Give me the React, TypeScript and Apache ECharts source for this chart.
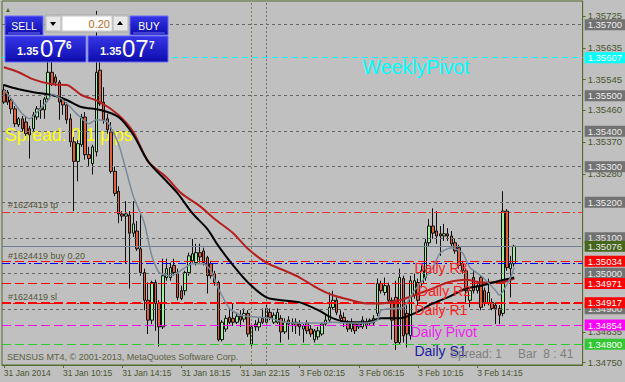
import React, { useEffect, useRef } from "react";
import * as echarts from "echarts";

const W = 625;
const H = 382;

// [open, close, low, high] per M15 bar, 31 Jan 2014 06:15 onwards
const ohlc: number[][] = [
  [1.35516,1.35482,1.35477,1.35532],[1.35510,1.35482,1.35474,1.35516],[1.35488,1.35463,1.35449,1.35496],
  [1.35463,1.35421,1.35412,1.35471],[1.35418,1.35435,1.35412,1.35440],[1.35435,1.35407,1.35398,1.35443],
  [1.35426,1.35393,1.35387,1.35440],[1.35407,1.35390,1.35323,1.35415],[1.35407,1.35446,1.35398,1.35454],
  [1.35440,1.35463,1.35432,1.35471],[1.35465,1.35460,1.35435,1.35488],[1.35460,1.35491,1.35435,1.35496],
  [1.35491,1.35566,1.35482,1.35601],[1.35566,1.35532,1.35527,1.35615],[1.35552,1.35538,1.35527,1.35560],
  [1.35538,1.35482,1.35432,1.35544],[1.35491,1.35474,1.35446,1.35496],[1.35474,1.35432,1.35421,1.35482],
  [1.35435,1.35370,1.35356,1.35449],[1.35370,1.35315,1.35175,1.35384],[1.35315,1.35365,1.35259,1.35376],
  [1.35362,1.35440,1.35356,1.35449],[1.35440,1.35334,1.35320,1.35454],[1.35334,1.35323,1.35301,1.35356],
  [1.35309,1.35356,1.35278,1.35362],[1.35342,1.35566,1.35329,1.35739],[1.35572,1.35477,1.35471,1.35606],
  [1.35482,1.35432,1.35421,1.35524],[1.35435,1.35404,1.35393,1.35449],[1.35398,1.35287,1.35281,1.35426],
  [1.35287,1.35225,1.35217,1.35301],[1.35231,1.35167,1.35141,1.35245],[1.35167,1.35161,1.35147,1.35175],
  [1.35161,1.35167,1.35027,1.35203],[1.35164,1.35113,1.34957,1.35175],[1.35113,1.35139,1.35102,1.35203],
  [1.35119,1.35069,1.35063,1.35147],[1.35069,1.35002,1.34993,1.35169],[1.35002,1.34924,1.34896,1.35013],
  [1.34924,1.34868,1.34829,1.34974],[1.34868,1.34974,1.34857,1.34979],[1.34974,1.34915,1.34838,1.34982],
  [1.34915,1.34849,1.34794,1.34924],[1.34849,1.34993,1.34843,1.35041],[1.34988,1.35013,1.34979,1.35041],
  [1.34988,1.35016,1.34979,1.35030],[1.35022,1.35002,1.34993,1.35041],[1.35002,1.34932,1.34924,1.35013],
  [1.34951,1.34929,1.34924,1.34965],[1.34951,1.35002,1.34938,1.35007],[1.35002,1.35049,1.34993,1.35058],
  [1.35035,1.35055,1.35030,1.35097],[1.35030,1.35058,1.35022,1.35083],[1.35058,1.35046,1.35030,1.35083],
  [1.35063,1.35030,1.35022,1.35072],[1.35044,1.34993,1.34943,1.35049],[1.35027,1.34993,1.34985,1.35035],
  [1.34999,1.34974,1.34965,1.35007],[1.34974,1.34813,1.34808,1.34979],[1.34813,1.34862,1.34808,1.34868],
  [1.34843,1.34873,1.34835,1.34882],[1.34876,1.34862,1.34857,1.34901],[1.34873,1.34862,1.34852,1.34915],
  [1.34862,1.34879,1.34857,1.34890],[1.34879,1.34868,1.34849,1.34896],[1.34871,1.34887,1.34862,1.34901],
  [1.34887,1.34829,1.34821,1.34896],[1.34799,1.34849,1.34794,1.34857],[1.34857,1.34849,1.34838,1.34868],
  [1.34849,1.34862,1.34838,1.34873],[1.34873,1.34862,1.34857,1.34901],[1.34862,1.34901,1.34857,1.34915],
  [1.34890,1.34876,1.34868,1.34901],[1.34862,1.34882,1.34857,1.34890],[1.34862,1.34890,1.34857,1.34901],
  [1.34873,1.34835,1.34805,1.34882],[1.34835,1.34862,1.34829,1.34873],[1.34868,1.34857,1.34813,1.34879],
  [1.34857,1.34862,1.34835,1.34873],[1.34862,1.34852,1.34829,1.34873],[1.34857,1.34849,1.34824,1.34868],
  [1.34843,1.34852,1.34805,1.34857],[1.34860,1.34838,1.34829,1.34868],[1.34843,1.34829,1.34821,1.34854],
  [1.34813,1.34838,1.34805,1.34843],[1.34821,1.34838,1.34813,1.34849],[1.34829,1.34857,1.34824,1.34862],
  [1.34857,1.34868,1.34852,1.34882],[1.34868,1.34904,1.34860,1.34946],[1.34904,1.34924,1.34896,1.34951],
  [1.34924,1.34890,1.34882,1.34932],[1.34882,1.34873,1.34862,1.34896],[1.34876,1.34862,1.34849,1.34890],
  [1.34860,1.34843,1.34835,1.34868],[1.34843,1.34860,1.34835,1.34873],[1.34857,1.34838,1.34829,1.34862],
  [1.34849,1.34857,1.34843,1.34862],[1.34849,1.34868,1.34843,1.34879],[1.34862,1.34852,1.34843,1.34873],
  [1.34860,1.34868,1.34854,1.34873],[1.34860,1.34873,1.34854,1.34882],[1.34887,1.34971,1.34879,1.34985],
  [1.34971,1.34951,1.34943,1.34979],[1.34946,1.34965,1.34938,1.34988],[1.34965,1.34924,1.34915,1.34974],
  [1.34924,1.34868,1.34813,1.34932],[1.34932,1.34805,1.34784,1.34979],[1.34805,1.34988,1.34799,1.35013],
  [1.34985,1.34824,1.34805,1.34993],[1.34887,1.34829,1.34791,1.34910],[1.34824,1.34979,1.34813,1.34993],
  [1.34938,1.34979,1.34929,1.34999],[1.34974,1.34924,1.34910,1.34985],[1.34971,1.35007,1.34960,1.35022],
  [1.34988,1.35086,1.34979,1.35097],[1.35086,1.35133,1.35077,1.35153],[1.35133,1.35113,1.35097,1.35183],
  [1.35119,1.35105,1.35083,1.35175],[1.35111,1.35105,1.35049,1.35133],[1.35105,1.35111,1.35091,1.35139],
  [1.35111,1.35105,1.35091,1.35127],[1.35105,1.35083,1.35074,1.35119],[1.35086,1.35063,1.35055,1.35097],
  [1.35072,1.35022,1.35013,1.35080],[1.35027,1.35007,1.34999,1.35035],[1.35007,1.34951,1.34918,1.35013],
  [1.34924,1.34951,1.34904,1.34960],[1.34988,1.34951,1.34943,1.35007],[1.34951,1.34965,1.34943,1.34974],
  [1.34988,1.34904,1.34896,1.34993],[1.34951,1.34915,1.34907,1.34960],[1.34918,1.34946,1.34910,1.34985],
  [1.34918,1.34901,1.34896,1.34929],[1.34910,1.34901,1.34857,1.34918],[1.34901,1.34882,1.34857,1.34910],
  [1.34887,1.35175,1.34879,1.35231],[1.35175,1.35016,1.35007,1.35181],[1.35013,1.35027,1.34932,1.35049],
  [1.35027,1.35076,1.35019,1.35080],
];

// moving averages read at sample bars: [barIndex, price]
const maRed: number[][] = [
  [0,1.35580],[4,1.35566],[8,1.35546],[13,1.35532],[17,1.35530],[21,1.35502],[26,1.35482],[31,1.35446],
  [35,1.35398],[39,1.35315],[44,1.35270],[48,1.35225],[53,1.35189],[57,1.35153],[62,1.35113],[66,1.35069],
  [71,1.35030],[76,1.35007],[80,1.34988],[85,1.34957],[89,1.34938],[94,1.34924],[98,1.34915],[102,1.34915],
  [107,1.34924],[111,1.34938],[116,1.34957],[120,1.34974],[125,1.34982],[129,1.34974],[134,1.34974],[138,1.34985],
];
const maBlack: number[][] = [
  [0,1.35530],[4,1.35518],[8,1.35510],[13,1.35502],[17,1.35488],[21,1.35468],[26,1.35460],[31,1.35440],
  [35,1.35390],[39,1.35315],[44,1.35259],[47,1.35225],[51,1.35169],[55,1.35125],[58,1.35077],[62,1.35022],
  [66,1.34974],[71,1.34932],[75,1.34924],[80,1.34918],[85,1.34896],[89,1.34873],[94,1.34862],[98,1.34862],
  [102,1.34873],[107,1.34873],[111,1.34887],[116,1.34915],[120,1.34932],[125,1.34957],[129,1.34965],
  [134,1.34979],[138,1.34988],
];
const maSlate: number[][] = [
  [0,1.35516],[2,1.35491],[5,1.35449],[7,1.35435],[9,1.35454],[12,1.35488],[13,1.35504],[16,1.35488],
  [20,1.35446],[23,1.35421],[25,1.35432],[28,1.35426],[31,1.35365],[33,1.35292],[35,1.35217],[38,1.35141],
  [40,1.35049],[42,1.35002],[45,1.34993],[47,1.35002],[51,1.35027],[54,1.35027],[56,1.35007],[58,1.34957],
  [61,1.34901],[64,1.34882],[69,1.34876],[72,1.34873],[76,1.34862],[80,1.34860],[85,1.34860],[89,1.34862],
  [94,1.34860],[98,1.34860],[101,1.34868],[102,1.34896],[105,1.34901],[108,1.34904],[111,1.34951],
  [116,1.35016],[118,1.35058],[121,1.35072],[124,1.35058],[126,1.35016],[129,1.34993],[133,1.34951],
  [134,1.34938],[137,1.34988],[138,1.35016],
];

const barSlots = 157;
const timeLabels = ["31 Jan 2014", "31 Jan 10:15", "31 Jan 14:15", "31 Jan 18:15", "31 Jan 22:15",
  "3 Feb 02:15", "3 Feb 06:15", "3 Feb 10:15", "3 Feb 14:15"];
const timeLabelBars = [0, 16, 32, 48, 64, 80, 96, 112, 128];
const separatorBars = [67, 71];

const yMin = 1.347417;
const yMax = 1.357667;
const gridLevels = [1.357, 1.355, 1.354, 1.353, 1.352, 1.351, 1.35, 1.349];
const scaleLabels = [1.35725, 1.35635, 1.35545, 1.3546, 1.3537, 1.3528, 1.34835, 1.3475];
const weeklyPivot = 1.35607;
const bidPrice = 1.35076;
const pivotNames = ["Daily R3", "Daily R2", "Daily R1", "Daily Pivot", "Daily S1"];
const pivotValues = [1.35034, 1.34971, 1.34917, 1.34854, 1.348];
const pivotLabelBars = [111, 112, 111, 110, 111];
const weeklyLabelBar = 97;
const orderNames = ["#1624419 tp", "#1624419 buy 0.20", "#1624419 sl"];
const orderValues = [1.35173, 1.35029, 1.34915];

export default function App() {
  const ref = useRef<HTMLDivElement>(null);
  useEffect(() => {
    document.body.style.margin = "0";
    const chart = echarts.init(ref.current!, null, { renderer: "svg", width: W, height: H });
    const font = "'Liberation Sans', Arial, sans-serif";
    const olive = "#556b2f";
    const axisText = "#4a5530";
    const cats = Array.from({ length: barSlots }, (_, i) => String(i));

    const boxLabel = (bg: string, fg = "#ffffff") => ({
      show: true, position: "end", distance: 2,
      formatter: (p: any) => Number(p.value).toFixed(5),
      backgroundColor: bg, color: fg, fontSize: 9.5, fontFamily: font,
      padding: [1, 12, 0, 3], lineHeight: 10,
    });
    const orderLabel = (text: string) => ({
      show: true, position: "insideStartTop", distance: [6, 2], formatter: text,
      color: "#55553b", fontSize: 9, fontFamily: font,
    });
    const pivotColors = ["#ff0000", "#ff0000", "#ff0000", "#ff00ff", "#2ecc2e"];
    const pivotWidths = [1, 1, 2, 1, 1];
    const orderColors = ["#ee3333", "#0000ff", "#ff0000"];

    const gridMarks: any[] = [
      ...gridLevels.map((v) => ({
        yAxis: v, lineStyle: { color: "#666666", type: [3, 3], width: 1 }, label: boxLabel("#727272", "#ececec"),
      })),
      ...separatorBars.map((b, k) => ({
        xAxis: b, lineStyle: { color: k === 0 ? "#7c7c50" : "#707070", type: [2, 2], width: 1 }, label: { show: false },
      })),
    ];
    const levelMarks: any[] = [
      { yAxis: weeklyPivot, lineStyle: { color: "#00ffff", type: [6, 4], width: 1 }, label: boxLabel("#00ffff") },
      { yAxis: bidPrice, lineStyle: { color: "#6e7f92", type: "solid", width: 1 }, label: boxLabel("#46661c", "#e8e8e8") },
      ...orderValues.map((v, k) => ({
        yAxis: v, lineStyle: { color: orderColors[k], type: [8, 3, 2, 3], width: 1 }, label: orderLabel(orderNames[k]),
      })),
      ...pivotValues.map((v, k) => ({
        yAxis: v, lineStyle: { color: pivotColors[k], type: [9, 4], width: pivotWidths[k] },
        label: boxLabel(k === 4 ? "#33c833" : pivotColors[k]),
      })),
    ];

    // carrier series: one invisible point each, only there to hold the horizontal levels
    const carrier = (anchor: number[][], z: number, marks: any[]) => ({
      type: "line", data: anchor, z, silent: true, showSymbol: false, symbol: "none",
      lineStyle: { opacity: 0 }, itemStyle: { opacity: 0 },
      markLine: { silent: true, symbol: ["none", "none"], animation: false, precision: 5, label: { show: false }, data: marks },
    });

    const maSeries = (data: number[][], color: string, width: number, smooth: number) => ({
      type: "line", data, showSymbol: false, smooth, z: 5, silent: true,
      lineStyle: { color, width }, itemStyle: { color },
    });

    chart.setOption({
      animation: false,
      backgroundColor: "#c0c0c0",
      grid: { left: 2, right: 40, top: 1, bottom: 17, show: true, borderColor: olive, borderWidth: 1 },
      xAxis: {
        type: "category", data: cats, boundaryGap: true,
        axisLine: { show: true, lineStyle: { color: olive } },
        axisTick: { show: true, alignWithLabel: true, interval: (i: number) => timeLabelBars.includes(i), length: 3, lineStyle: { color: olive } },
        axisLabel: {
          interval: (i: number) => timeLabelBars.includes(i),
          formatter: (_v: string, i: number) => timeLabels[timeLabelBars.indexOf(i)] ?? "",
          align: "left", margin: 3, fontSize: 8.5, color: axisText, fontFamily: font,
        },
        splitLine: { show: false },
      },
      yAxis: {
        type: "value", position: "right", min: yMin, max: yMax,
        splitLine: { show: false },
        axisLine: { show: true, lineStyle: { color: olive } },
        axisTick: { show: true, customValues: scaleLabels, length: 3, lineStyle: { color: olive } },
        axisLabel: {
          customValues: scaleLabels, formatter: (v: number) => v.toFixed(5),
          color: axisText, fontSize: 9.5, fontFamily: font, margin: 5,
        },
      },
      series: [
        carrier([[0, bidPrice]], 1, gridMarks),
        {
          type: "candlestick", data: ohlc, barWidth: 3, z: 2, silent: true,
          itemStyle: { color: "#a0f0a0", color0: "#e0603a", borderColor: "#101010", borderColor0: "#101010", borderWidth: 1 },
        },
        carrier([[0, bidPrice]], 3, levelMarks),
        maSeries(maRed, "#b52020", 2, 0.3),
        maSeries(maBlack, "#000000", 2, 0.3),
        maSeries(maSlate, "#7a8a9a", 1.5, 0.2),
      ],
    });

    const pt = (bar: number, v: number) => chart.convertToPixel({ gridIndex: 0 } as any, [bar, v]) as number[];
    const blue = () => new echarts.graphic.LinearGradient(0, 0, 0, 1, [
      { offset: 0, color: "#3636e8" }, { offset: 1, color: "#0c0cac" },
    ]);
    const txt = (text: string, x: number, y: number, size: number, fill: string, opts: any = {}) => ({
      type: "text", x, y, z: opts.z ?? 10,
      style: {
        text, fill, fontSize: size, fontFamily: font, fontWeight: opts.weight ?? "normal",
        align: opts.align ?? "left", textAlign: opts.align ?? "left",
        verticalAlign: opts.va ?? "top", textVerticalAlign: opts.va ?? "top",
      },
    });

    const wp = pt(weeklyLabelBar, weeklyPivot);
    const pivotTexts = pivotNames.map((name, k) => {
      const p = pt(pivotLabelBars[k], pivotValues[k]);
      const col = k < 3 ? "#ff2020" : k === 3 ? "#ee22ee" : "#1c1ca0";
      return txt(name, p[0], p[1], 14, col);
    });

    const P = 100;
    const graphic: any[] = [
      txt("Spread: 0.1 pips", 5, 126, 17.5, "#ffff00", { z: 1 }),
      txt("WeeklyPivot", wp[0], wp[1] - 1, 19.5, "#00ffff"),
      ...pivotTexts,
      txt("SENSUS MT4, \u00a9 2001-2013, MetaQuotes Software Corp.", 7, 352, 9, "#5d6142"),
      txt("Spread: 1", 450, 348, 12, "#7f7f7f"),
      txt("Bar  8 : 41", 518, 348, 12, "#7f7f7f"),
      { type: "polygon", z: P, shape: { points: [[6, 12], [10, 12], [8, 8]] }, style: { fill: "#4a6a1a" } },
      { type: "rect", z: P, shape: { x: 5, y: 16, width: 38, height: 19 }, style: { fill: blue(), stroke: "#6a6aff", lineWidth: 1 } },
      { type: "rect", z: P, shape: { x: 5, y: 36, width: 81, height: 26 }, style: { fill: blue(), stroke: "#6a6aff", lineWidth: 1 } },
      { type: "rect", z: P, shape: { x: 88, y: 36, width: 80, height: 26 }, style: { fill: blue(), stroke: "#6a6aff", lineWidth: 1 } },
      { type: "rect", z: P, shape: { x: 130, y: 16, width: 38, height: 19 }, style: { fill: blue(), stroke: "#6a6aff", lineWidth: 1 } },
      { type: "line", z: P + 1, shape: { x1: 8, y1: 33, x2: 40, y2: 33 }, style: { stroke: "#7070f0", lineWidth: 1 } },
      { type: "line", z: P + 1, shape: { x1: 133, y1: 33, x2: 165, y2: 33 }, style: { stroke: "#7070f0", lineWidth: 1 } },
      { type: "rect", z: P, shape: { x: 45, y: 15, width: 84, height: 17 }, style: { fill: "#d6d6d6", stroke: "#a8a8a8", lineWidth: 1 } },
      { type: "rect", z: P + 1, shape: { x: 46, y: 16, width: 15, height: 15 }, style: { fill: "#e8e8e8", stroke: "#b4b4b4", lineWidth: 1 } },
      { type: "polygon", z: P + 2, shape: { points: [[50, 22], [56, 22], [53, 26]] }, style: { fill: "#000000" } },
      { type: "rect", z: P + 1, shape: { x: 62, y: 16, width: 50, height: 15 }, style: { fill: "#ffffff", stroke: "#c8c8c8", lineWidth: 1 } },
      { type: "rect", z: P + 1, shape: { x: 113, y: 16, width: 15, height: 15 }, style: { fill: "#e8e8e8", stroke: "#b4b4b4", lineWidth: 1 } },
      { type: "polygon", z: P + 2, shape: { points: [[117, 25], [123, 25], [120, 21]] }, style: { fill: "#000000" } },
      txt("0.20", 110, 24, 11, "#b8671e", { z: P + 2, align: "right", va: "middle" }),
      txt("SELL", 24, 26, 10.5, "#ffffff", { z: P + 2, align: "center", va: "middle" }),
      txt("BUY", 149, 26, 10.5, "#ffffff", { z: P + 2, align: "center", va: "middle" }),
      txt("1.35", 17, 51, 11, "#ffffff", { z: P + 2, va: "middle", weight: "bold" }),
      txt("07", 40, 48, 24, "#ffffff", { z: P + 2, va: "middle" }),
      txt("6", 66, 45, 10, "#ffffff", { z: P + 2, va: "middle", weight: "bold" }),
      txt("1.35", 100, 51, 11, "#ffffff", { z: P + 2, va: "middle", weight: "bold" }),
      txt("07", 122, 48, 24, "#ffffff", { z: P + 2, va: "middle" }),
      txt("7", 149, 45, 10, "#ffffff", { z: P + 2, va: "middle", weight: "bold" }),
    ];
    chart.setOption({ graphic });

    return () => chart.dispose();
  }, []);

  return <div ref={ref} style={{ width: W, height: H, background: "#c0c0c0" }} />;
}
